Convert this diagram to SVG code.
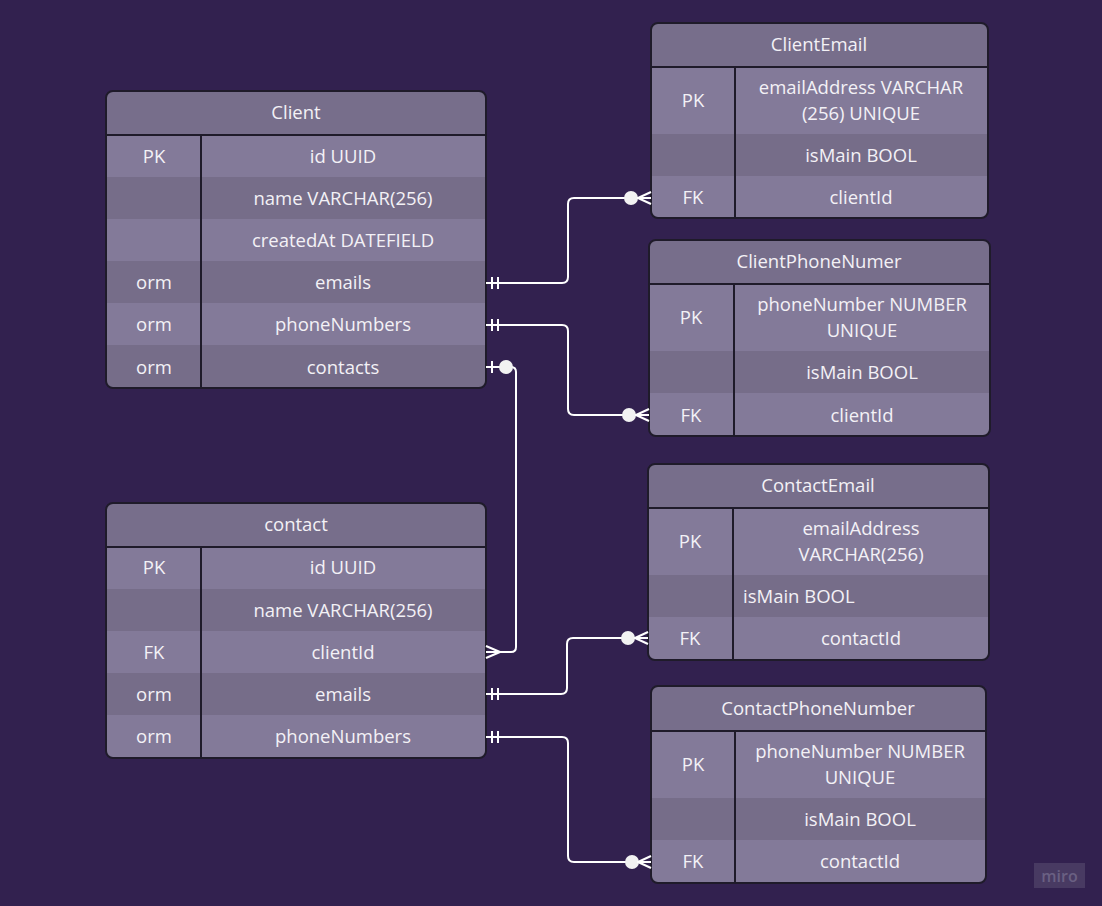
<svg xmlns="http://www.w3.org/2000/svg" width="1102" height="906" viewBox="0 0 1102 906">
<style>
.t{font-family:"Open Sans","Liberation Sans",sans-serif;font-size:18.5px;fill:#f3f1f6;text-anchor:middle;dominant-baseline:central;transform:translateY(-1px)}
.l{text-anchor:start}
.hd{fill:#776e8b}
.dk{fill:#766d89}
.lt{fill:#837a99}
.bd{fill:none;stroke:#1f1b2a;stroke-width:2}
.ln{stroke:#1f1b2a;stroke-width:2}
.c{fill:none;stroke:#ffffff;stroke-width:2;stroke-linejoin:round}
.dot{fill:#f2f2f2}
</style>
<defs>
<clipPath id="cpClient"><rect x="106" y="91" width="380" height="297" rx="7"/></clipPath>
<clipPath id="cpContact"><rect x="106" y="503" width="380" height="255" rx="7"/></clipPath>
<clipPath id="cpCE"><rect x="651" y="23" width="337" height="195" rx="7"/></clipPath>
<clipPath id="cpCP"><rect x="649" y="240" width="341" height="196" rx="7"/></clipPath>
<clipPath id="cpKE"><rect x="648" y="464" width="341" height="196" rx="7"/></clipPath>
<clipPath id="cpKP"><rect x="651" y="686" width="335" height="197" rx="7"/></clipPath>
</defs>
<rect width="1102" height="906" fill="#32214f"/>

<g id="Client">
<g clip-path="url(#cpClient)">
<rect class="hd" x="106" y="91" width="380" height="44"/>
<rect class="lt" x="106" y="135" width="380" height="42"/>
<rect class="dk" x="106" y="177" width="380" height="42"/>
<rect class="lt" x="106" y="219" width="380" height="42"/>
<rect class="dk" x="106" y="261" width="380" height="42"/>
<rect class="lt" x="106" y="303" width="380" height="42"/>
<rect class="dk" x="106" y="345" width="380" height="43"/>
</g>
<line class="ln" x1="106" y1="135" x2="486" y2="135"/>
<line class="ln" x1="201" y1="135" x2="201" y2="388"/>
<rect class="bd" x="106" y="91" width="380" height="297" rx="7"/>
<text class="t" x="296" y="112">Client</text>
<text class="t" x="154" y="156">PK</text><text class="t" x="343" y="156">id UUID</text>
<text class="t" x="343" y="198">name VARCHAR(256)</text>
<text class="t" x="343" y="240">createdAt DATEFIELD</text>
<text class="t" x="154" y="282">orm</text><text class="t" x="343" y="282">emails</text>
<text class="t" x="154" y="324">orm</text><text class="t" x="343" y="324">phoneNumbers</text>
<text class="t" x="154" y="367">orm</text><text class="t" x="343" y="367">contacts</text>
</g>

<g id="contact">
<g clip-path="url(#cpContact)">
<rect class="hd" x="106" y="503" width="380" height="44"/>
<rect class="lt" x="106" y="547" width="380" height="42"/>
<rect class="dk" x="106" y="589" width="380" height="42"/>
<rect class="lt" x="106" y="631" width="380" height="42"/>
<rect class="dk" x="106" y="673" width="380" height="42"/>
<rect class="lt" x="106" y="715" width="380" height="43"/>
</g>
<line class="ln" x1="106" y1="547" x2="486" y2="547"/>
<line class="ln" x1="201" y1="547" x2="201" y2="758"/>
<rect class="bd" x="106" y="503" width="380" height="255" rx="7"/>
<text class="t" x="296" y="524">contact</text>
<text class="t" x="154" y="567">PK</text><text class="t" x="343" y="567">id UUID</text>
<text class="t" x="343" y="610">name VARCHAR(256)</text>
<text class="t" x="154" y="652">FK</text><text class="t" x="343" y="652">clientId</text>
<text class="t" x="154" y="694">orm</text><text class="t" x="343" y="694">emails</text>
<text class="t" x="154" y="736">orm</text><text class="t" x="343" y="736">phoneNumbers</text>
</g>

<g id="ClientEmail">
<g clip-path="url(#cpCE)">
<rect class="hd" x="651" y="23" width="337" height="44"/>
<rect class="lt" x="651" y="67" width="337" height="67"/>
<rect class="dk" x="651" y="134" width="337" height="42"/>
<rect class="lt" x="651" y="176" width="337" height="42"/>
</g>
<line class="ln" x1="651" y1="67" x2="988" y2="67"/>
<line class="ln" x1="735" y1="67" x2="735" y2="218"/>
<rect class="bd" x="651" y="23" width="337" height="195" rx="7"/>
<text class="t" x="819" y="44">ClientEmail</text>
<text class="t" x="693" y="100">PK</text>
<text class="t" x="861" y="87">emailAddress VARCHAR</text>
<text class="t" x="861" y="113">(256) UNIQUE</text>
<text class="t" x="861" y="155">isMain BOOL</text>
<text class="t" x="693" y="197">FK</text><text class="t" x="861" y="197">clientId</text>
</g>

<g id="ClientPhoneNumer">
<g clip-path="url(#cpCP)">
<rect class="hd" x="649" y="240" width="341" height="44"/>
<rect class="lt" x="649" y="284" width="341" height="67"/>
<rect class="dk" x="649" y="351" width="341" height="42"/>
<rect class="lt" x="649" y="393" width="341" height="43"/>
</g>
<line class="ln" x1="649" y1="284" x2="990" y2="284"/>
<line class="ln" x1="734" y1="284" x2="734" y2="436"/>
<rect class="bd" x="649" y="240" width="341" height="196" rx="7"/>
<text class="t" x="819" y="261">ClientPhoneNumer</text>
<text class="t" x="691" y="317">PK</text>
<text class="t" x="862" y="304">phoneNumber NUMBER</text>
<text class="t" x="862" y="330">UNIQUE</text>
<text class="t" x="862" y="372">isMain BOOL</text>
<text class="t" x="691" y="415">FK</text><text class="t" x="862" y="415">clientId</text>
</g>

<g id="ContactEmail">
<g clip-path="url(#cpKE)">
<rect class="hd" x="648" y="464" width="341" height="44"/>
<rect class="lt" x="648" y="508" width="341" height="67"/>
<rect class="dk" x="648" y="575" width="341" height="42"/>
<rect class="lt" x="648" y="617" width="341" height="43"/>
</g>
<line class="ln" x1="648" y1="508" x2="989" y2="508"/>
<line class="ln" x1="733" y1="508" x2="733" y2="660"/>
<rect class="bd" x="648" y="464" width="341" height="196" rx="7"/>
<text class="t" x="818" y="485">ContactEmail</text>
<text class="t" x="690" y="541">PK</text>
<text class="t" x="861" y="528">emailAddress</text>
<text class="t" x="861" y="554">VARCHAR(256)</text>
<text class="t l" x="743" y="596">isMain BOOL</text>
<text class="t" x="690" y="638">FK</text><text class="t" x="861" y="638">contactId</text>
</g>

<g id="ContactPhoneNumber">
<g clip-path="url(#cpKP)">
<rect class="hd" x="651" y="686" width="335" height="45"/>
<rect class="lt" x="651" y="731" width="335" height="67"/>
<rect class="dk" x="651" y="798" width="335" height="42"/>
<rect class="lt" x="651" y="840" width="335" height="43"/>
</g>
<line class="ln" x1="651" y1="731" x2="986" y2="731"/>
<line class="ln" x1="735" y1="731" x2="735" y2="883"/>
<rect class="bd" x="651" y="686" width="335" height="197" rx="7"/>
<text class="t" x="818" y="708">ContactPhoneNumber</text>
<text class="t" x="693" y="764">PK</text>
<text class="t" x="860" y="751">phoneNumber NUMBER</text>
<text class="t" x="860" y="777">UNIQUE</text>
<text class="t" x="860" y="819">isMain BOOL</text>
<text class="t" x="693" y="861">FK</text><text class="t" x="860" y="861">contactId</text>
</g>

<g id="connectors">
<path class="c" d="M486,283 H562 Q568,283 568,277 V204 Q568,198 574,198 H651"/>
<path class="c" d="M492,277 V289 M498,277 V289"/>
<circle class="dot" cx="631" cy="198" r="7"/>
<path class="c" d="M651,192 L638,198 L651,204"/>
<path class="c" d="M486,325 H562 Q568,325 568,331 V409 Q568,415 574,415 H649"/>
<path class="c" d="M492,319 V331 M498,319 V331"/>
<circle class="dot" cx="629" cy="415" r="7"/>
<path class="c" d="M649,409 L636,415 L649,421"/>
<path class="c" d="M486,367 H511 Q516,367 516,372 V647 Q516,652 511,652 H486"/>
<path class="c" d="M492,361 V373"/>
<circle class="dot" cx="506" cy="367" r="7"/>
<path class="c" d="M486,646 L500,652 L486,658"/>
<path class="c" d="M486,694 H561 Q567,694 567,688 V644 Q567,638 573,638 H648"/>
<path class="c" d="M492,688 V700 M498,688 V700"/>
<circle class="dot" cx="628" cy="638" r="7"/>
<path class="c" d="M648,632 L635,638 L648,644"/>
<path class="c" d="M486,737 H562 Q568,737 568,743 V856 Q568,862 574,862 H651"/>
<path class="c" d="M492,731 V743 M498,731 V743"/>
<circle class="dot" cx="632" cy="862" r="7"/>
<path class="c" d="M651,856 L638,862 L651,868"/>
</g>

<g id="miro">
<rect x="1034" y="863" width="51" height="25" fill="#483a62"/>
<text x="1059.5" y="876" style="font-family:'Open Sans','Liberation Sans',sans-serif;font-size:16px;font-weight:600;fill:#6a6082;text-anchor:middle;dominant-baseline:central">miro</text>
</g>
</svg>
